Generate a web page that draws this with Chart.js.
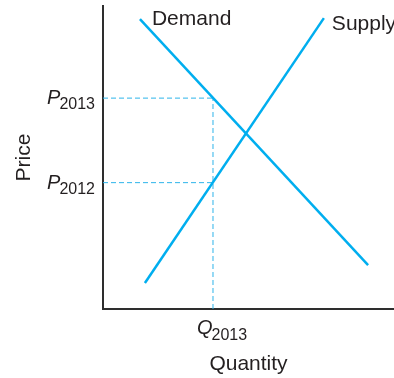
<!DOCTYPE html>
<html>
<head>
<meta charset="utf-8">
<title>Supply and Demand</title>
<script src="https://cdn.jsdelivr.net/npm/chart.js@4.4.1/dist/chart.umd.min.js"></script>
<style>
  html, body { margin: 0; padding: 0; background: #fff; }
  #wrap { width: 394px; height: 378px; position: relative; }
</style>
</head>
<body>
<div id="wrap"><canvas id="econChart"></canvas></div>
<script>
// Curve end points (quantity, price) on a 0-100 scale
const demandQ = [12.7, 91.1];
const demandP = [95.7, 14.5];
const supplyQ = [14.4, 75.9];
const supplyP = [8.6, 96.0];

// Marked prices and quantity
const priceTicks = [69.6, 41.7];
const priceTickYears = ['2013', '2012'];
const quantityTicks = [37.8];
const quantityTickYears = ['2013'];

const curveColor = '#00aeef';
const guideColor = '#2db4ea';
const axisColor = '#2e2e2e';
const textColor = '#231f20';
const fontFamily = '"Liberation Sans", Arial, Helvetica, sans-serif';

function pts(xs, ys) {
    return xs.map((v, i) => ({ x: v, y: ys[i] }));
}

// Dashed guide lines built from the marked values
const guides = [
    pts([0, quantityTicks[0]], [priceTicks[0], priceTicks[0]]),
    pts([0, quantityTicks[0]], [priceTicks[1], priceTicks[1]]),
    pts([quantityTicks[0], quantityTicks[0]], [0, priceTicks[0]])
];

// Draws the curve names and the subscripted tick labels
const labelPlugin = {
    id: 'econLabels',
    afterDraw(chart) {
        const { ctx, scales: { x, y } } = chart;
        ctx.save();
        ctx.fillStyle = textColor;
        ctx.textBaseline = 'alphabetic';

        ctx.font = '21px ' + fontFamily;
        ctx.textAlign = 'left';
        ctx.fillText('Demand', x.getPixelForValue(demandQ[0]) + 12, y.getPixelForValue(demandP[0]) + 6);
        ctx.fillText('Supply', x.getPixelForValue(supplyQ[1]) + 8, y.getPixelForValue(supplyP[1]) + 12);

        const mainFont = 'italic 20px ' + fontFamily;
        const subFont = '16px ' + fontFamily;

        priceTicks.forEach((v, i) => {
            const py = y.getPixelForValue(v);
            const right = x.left - 8;
            ctx.font = subFont;
            const w = ctx.measureText(priceTickYears[i]).width;
            ctx.textAlign = 'right';
            ctx.fillText(priceTickYears[i], right, py + 11);
            ctx.font = mainFont;
            ctx.fillText('P', right - w + 1, py + 6);
        });

        quantityTicks.forEach((v, i) => {
            const px = x.getPixelForValue(v);
            const left = px - 16;
            ctx.textAlign = 'left';
            ctx.font = mainFont;
            const w = ctx.measureText('Q').width;
            ctx.fillText('Q', left, y.bottom + 25);
            ctx.font = subFont;
            ctx.fillText(quantityTickYears[i], left + w - 1, y.bottom + 31);
        });
        ctx.restore();
    }
};

const ctx = document.getElementById('econChart').getContext('2d');
const chart = new Chart(ctx, {
    type: 'scatter',
    data: {
        datasets: [
            {
                label: 'Demand',
                data: pts(demandQ, demandP),
                showLine: true,
                borderColor: curveColor,
                borderWidth: 2.5,
                pointRadius: 0
            },
            {
                label: 'Supply',
                data: pts(supplyQ, supplyP),
                showLine: true,
                borderColor: curveColor,
                borderWidth: 2.5,
                pointRadius: 0
            },
            ...guides.map(g => ({
                data: g,
                showLine: true,
                borderColor: guideColor,
                borderWidth: 1,
                borderDash: [5, 3],
                pointRadius: 0
            }))
        ]
    },
    options: {
        responsive: true,
        maintainAspectRatio: false,
        animation: false,
        layout: { padding: { top: 6, right: 0, bottom: 0, left: 0 } },
        plugins: {
            legend: { display: false },
            tooltip: { enabled: false }
        },
        scales: {
            x: {
                type: 'linear',
                min: 0,
                max: 100,
                grid: { display: false },
                ticks: { display: false },
                border: { display: true, color: axisColor, width: 2 },
                title: {
                    display: true,
                    text: 'Quantity',
                    color: textColor,
                    font: { family: fontFamily, size: 21 },
                    padding: { top: 0, bottom: 1 }
                },
                afterFit: (scale) => { scale.height = 69; }
            },
            y: {
                type: 'linear',
                min: 0,
                max: 100,
                grid: { display: false },
                ticks: { display: false },
                border: { display: true, color: axisColor, width: 2 },
                title: {
                    display: true,
                    text: 'Price',
                    color: textColor,
                    font: { family: fontFamily, size: 21 },
                    padding: { top: 12, bottom: 0 }
                },
                afterFit: (scale) => { scale.width = 103; }
            }
        }
    },
    plugins: [labelPlugin]
});
</script>
</body>
</html>
